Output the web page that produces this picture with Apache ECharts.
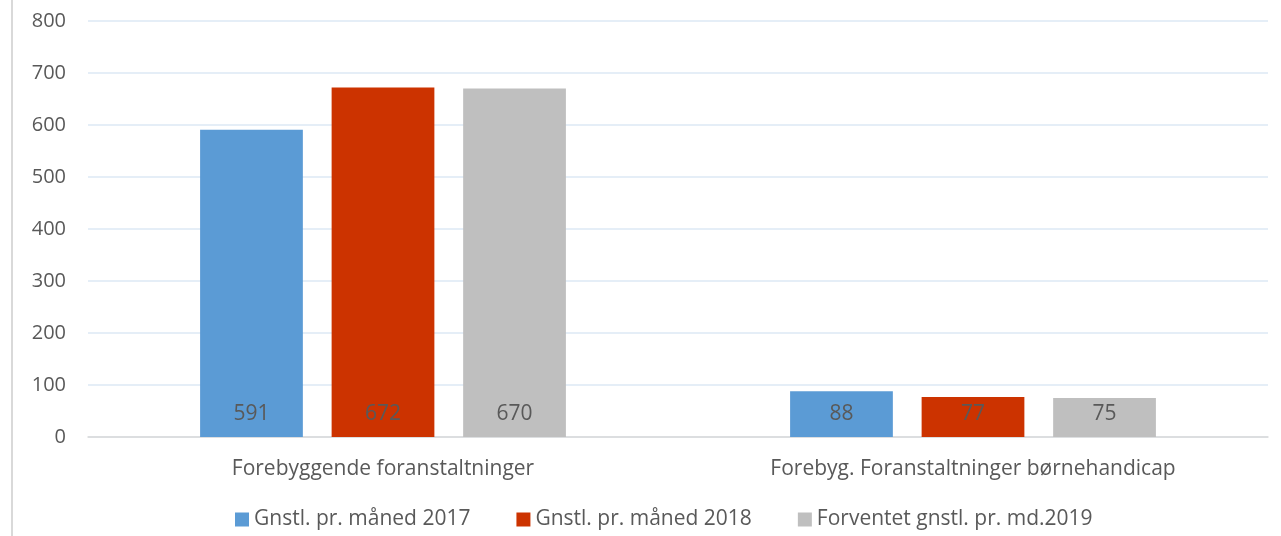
<!DOCTYPE html>
<html>
<head>
<meta charset="utf-8">
<script src="https://cdn.jsdelivr.net/npm/echarts@6/dist/echarts.min.js"></script>
<style>
  html, body { margin: 0; padding: 0; background: #fff; }
  #chart { width: 1281px; height: 536px; }
</style>
</head>
<body>
<div id="chart"></div>
<script>
const categories = ['Forebyggende foranstaltninger', 'Forebyg. Foranstaltninger børnehandicap'];
const seriesNames = ['Gnstl. pr. måned 2017', 'Gnstl. pr. måned 2018', 'Forventet gnstl. pr. md.2019'];
const values2017 = [591, 88];
const values2018 = [672, 77];
const values2019 = [670, 75];
const colors = ['#5b9bd5', '#cc3300', '#bfbfbf'];

const chart = echarts.init(document.getElementById('chart'));
const font = "'Open Sans', 'Liberation Sans', sans-serif";

const makeSeries = (name, data, color) => ({
  name: name,
  type: 'bar',
  data: data,
  barGap: '28%',
  barCategoryGap: '38%',
  itemStyle: { color: color },
  label: {
    show: true,
    position: 'insideBottom',
    distance: 12,
    color: '#595959',
    fontSize: 21,
    fontFamily: font
  }
});

const option = {
  animation: false,
  textStyle: { fontFamily: font },
  graphic: [{
    type: 'line',
    shape: { x1: 12, y1: 0, x2: 12, y2: 536 },
    style: { stroke: '#d9d9d9', lineWidth: 2 }
  }],
  grid: { left: 88, right: 13, top: 21, bottom: 99 },
  legend: {
    bottom: 1,
    left: 230,
    itemWidth: 14,
    itemHeight: 14,
    itemGap: 46,
    icon: 'rect',
    textStyle: { color: '#595959', fontSize: 21, fontFamily: font },
    data: seriesNames
  },
  xAxis: {
    type: 'category',
    data: categories,
    axisLine: { lineStyle: { color: '#d9d9d9', width: 1.5 } },
    axisTick: { show: false },
    axisLabel: { color: '#595959', fontSize: 21, margin: 22, fontFamily: font }
  },
  yAxis: {
    type: 'value',
    min: 0,
    max: 800,
    interval: 100,
    axisLine: { show: false },
    axisTick: { show: false },
    splitLine: { lineStyle: { color: '#dce9f5', width: 1.5 } },
    axisLabel: { color: '#595959', fontSize: 20, margin: 22, fontFamily: font }
  },
  series: [
    makeSeries(seriesNames[0], values2017, colors[0]),
    makeSeries(seriesNames[1], values2018, colors[1]),
    makeSeries(seriesNames[2], values2019, colors[2])
  ]
};

chart.setOption(option);
</script>
</body>
</html>
